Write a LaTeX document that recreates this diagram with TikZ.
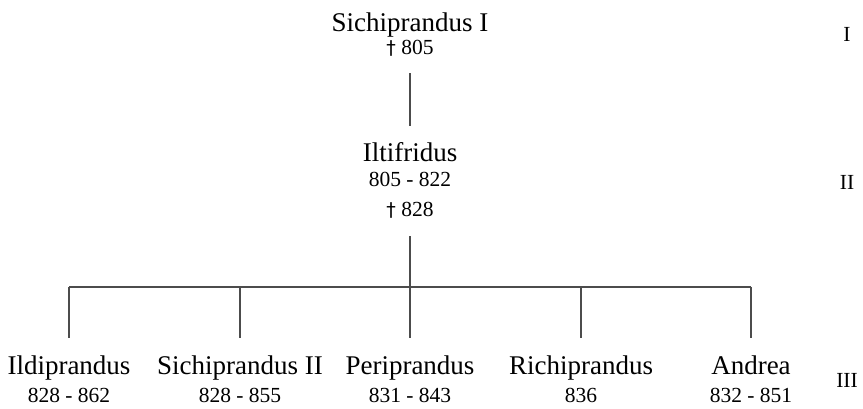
\documentclass[tikz,border=0pt]{standalone}
\usepackage{fontspec}
\setmainfont{Liberation Serif}
\newfontfamily\crossfont{DejaVu Sans}
\newcommand{\died}{{\crossfont\fontsize{19}{22}\selectfont †}}
\begin{document}
\begin{tikzpicture}[x=1pt, y=1pt,
          pname/.style={anchor=base, inner sep=0pt, font=\fontsize{27}{30}\selectfont,
                        text height=19pt, text depth=6pt},
          pdate/.style={anchor=base, inner sep=0pt, font=\fontsize{21.5}{24}\selectfont,
                        text height=15pt, text depth=4pt},
          gen/.style={anchor=base, inner sep=0pt, font=\fontsize{21.5}{24}\selectfont},
          link/.style={draw=black!70, line width=1.5pt}]
        \useasboundingbox (0,0) rectangle (863,409);
        % generation I
        \node[pname] (sich1) at (410,377) {Sichiprandus I};
        \node[pdate] (d805) at (410,354) {\died\ 805};
        % generation II
        \node[pname] (iltif) at (410,247) {Iltifridus};
        \node[pdate] (iltifyr) at (410,222) {805 - 822};
        \node[pdate] (d828) at (410,192) {\died\ 828};
        % generation III
        \node[pname] (ildi) at (69,34) {Ildiprandus};
        \node[pdate] (ildiyr) at (69,6) {828 - 862};
        \node[pname] (sich2) at (240,34) {Sichiprandus II};
        \node[pdate] (sich2yr) at (240,6) {828 - 855};
        \node[pname] (peri) at (410,34) {Periprandus};
        \node[pdate] (periyr) at (410,6) {831 - 843};
        \node[pname] (richi) at (581,34) {Richiprandus};
        \node[pdate] (richiyr) at (581,6) {836};
        \node[pname] (andrea) at (751,34) {Andrea};
        \node[pdate] (andreayr) at (751,6) {832 - 851};
        % generation numbers
        \node[gen] (g1) at (847,367) {I};
        \node[gen] (g2) at (847,219) {II};
        \node[gen] (g3) at (847,21) {III};
        % connectors
        \coordinate (bar) at (410,122);
        \draw[link, shorten <=14pt, shorten >=17pt] (d805.south) -- (iltif.north);
        \draw[link, shorten <=15pt] (d828.south) -- (bar);
        \draw[link] (ildi.north |- bar) -- (andrea.north |- bar);
        \foreach \c in {ildi,sich2,peri,richi,andrea}
          \draw[link, shorten >=18pt] (\c.north |- bar) -- (\c.north);
      \end{tikzpicture}
\end{document}
